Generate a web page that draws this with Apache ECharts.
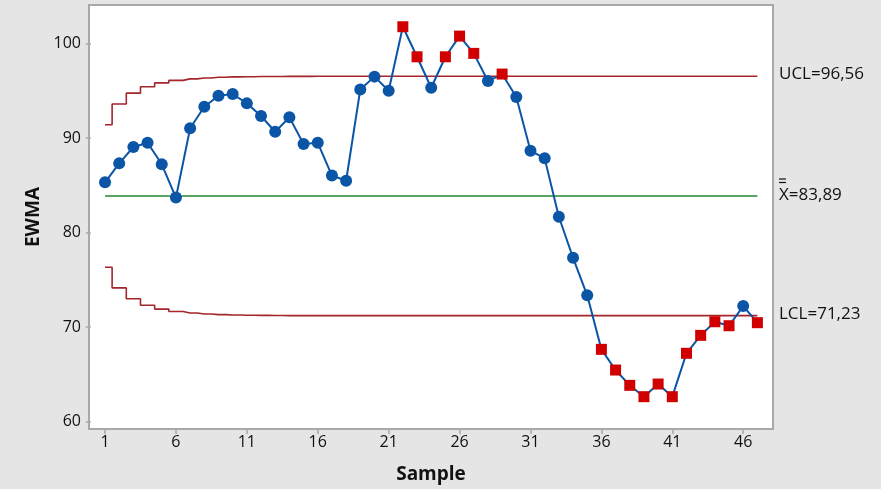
<!DOCTYPE html>
<html>
<head>
<meta charset="utf-8">
<script src="https://cdn.jsdelivr.net/npm/echarts@6/dist/echarts.min.js"></script>
<style>
html,body{margin:0;padding:0;background:#e5e5e5;}
#c{width:881px;height:489px;}
</style>
</head>
<body>
<div id="c"></div>
<script>
// ---- data ----
const samples = [];
for (let i = 1; i <= 47; i++) samples.push(i);
const ewma = [85.33, 87.34, 89.07, 89.52, 87.24, 83.72, 91.05, 93.33, 94.50, 94.68,
              93.69, 92.35, 90.69, 92.21, 89.39, 89.52, 86.05, 85.50, 95.17, 96.52,
              95.03, 101.80, 98.62, 95.34, 98.62, 100.81, 98.98, 96.05, 96.79, 94.36,
              88.68, 87.87, 81.69, 77.35, 73.38, 67.66, 65.47, 63.85, 62.65, 63.99,
              62.65, 67.24, 69.14, 70.58, 70.16, 72.24, 70.48];
const ucl = [91.43, 93.62, 94.77, 95.45, 95.86, 96.12, 96.28, 96.38, 96.45, 96.49,
             96.51, 96.53, 96.54, 96.55, 96.55, 96.56, 96.56, 96.56, 96.56, 96.56,
             96.56, 96.56, 96.56, 96.56, 96.56, 96.56, 96.56, 96.56, 96.56, 96.56,
             96.56, 96.56, 96.56, 96.56, 96.56, 96.56, 96.56, 96.56, 96.56, 96.56,
             96.56, 96.56, 96.56, 96.56, 96.56, 96.56, 96.56];
const lcl = [76.35, 74.16, 73.01, 72.33, 71.92, 71.66, 71.50, 71.40, 71.33, 71.29,
             71.27, 71.25, 71.24, 71.23, 71.23, 71.23, 71.23, 71.23, 71.23, 71.23,
             71.23, 71.23, 71.23, 71.23, 71.23, 71.23, 71.23, 71.23, 71.23, 71.23,
             71.23, 71.23, 71.23, 71.23, 71.23, 71.23, 71.23, 71.23, 71.23, 71.23,
             71.23, 71.23, 71.23, 71.23, 71.23, 71.23, 71.23];
const center = 83.89;
const uclLabel = "UCL=96,56";
const centerLabel = "X=83,89";
const lclLabel = "LCL=71,23";
const xTicks = [1, 6, 11, 16, 21, 26, 31, 36, 41, 46];
const yTicks = [60, 70, 80, 90, 100];

// ---- styles ----
const BLUE = '#0a55a6', RED = '#d00000', LIMIT = '#a3262a', GREEN = '#22882f';
const AXIS = '#a8a8a8', TXT = '#111111';
const FONT = '"Open Sans", "Noto Sans", sans-serif';

const ewmaData = samples.map((s, i) => {
  const v = ewma[i];
  const out = v > ucl[i] || v < lcl[i];
  return out
    ? { value: [s, v], symbol: 'rect', symbolSize: 11, itemStyle: { color: RED } }
    : { value: [s, v] };
});

const chart = echarts.init(document.getElementById('c'), null, { renderer: 'canvas' });
chart.setOption({
  backgroundColor: '#e5e5e5',
  animation: false,
  grid: { left: 89, top: 5, right: 108, bottom: 60, show: true, backgroundColor: '#ffffff',
          borderColor: AXIS, borderWidth: 2 },
  xAxis: {
    type: 'value', min: -0.13, max: 48.1,
    name: 'Sample', nameLocation: 'middle', nameGap: 36,
    nameTextStyle: { fontFamily: FONT, fontSize: 19, fontWeight: 'bold', color: TXT },
    axisLine: { show: false },
    axisTick: { show: true, length: 5, lineStyle: { color: AXIS, width: 1.5 }, customValues: xTicks },
    axisLabel: { fontFamily: FONT, fontSize: 16, color: TXT, margin: 5, customValues: xTicks },
    splitLine: { show: false }
  },
  yAxis: {
    type: 'value', min: 59.23, max: 104.1,
    name: 'EWMA', nameLocation: 'middle', nameGap: 46, nameRotate: 90,
    nameTextStyle: { fontFamily: FONT, fontSize: 19, fontWeight: 'bold', color: TXT },
    axisLine: { show: false },
    axisTick: { show: true, length: 5, lineStyle: { color: AXIS, width: 1.5 }, customValues: yTicks },
    axisLabel: { fontFamily: FONT, fontSize: 16, color: TXT, margin: 8, customValues: yTicks },
    splitLine: { show: false }
  },
  series: [
    { type: 'line', data: samples.map((s, i) => [s, ucl[i]]), step: 'middle', symbol: 'none',
      lineStyle: { color: LIMIT, width: 1.6 }, z: 1 },
    { type: 'line', data: samples.map((s, i) => [s, lcl[i]]), step: 'middle', symbol: 'none',
      lineStyle: { color: LIMIT, width: 1.6 }, z: 1 },
    { type: 'line', data: [[samples[0], center], [samples[samples.length - 1], center]], symbol: 'none',
      lineStyle: { color: GREEN, width: 1.6 }, z: 1 },
    { type: 'line', data: ewmaData, symbol: 'circle', symbolSize: 12, showAllSymbol: true,
      itemStyle: { color: BLUE }, lineStyle: { color: BLUE, width: 2 }, z: 3 }
  ],
  graphic: [
    { type: 'text', left: 779, top: 66, style: { text: uclLabel, fontFamily: FONT, fontSize: 17, fill: TXT } },
    { type: 'text', left: 779, top: 187, style: { text: centerLabel, fontFamily: FONT, fontSize: 17, fill: TXT } },
    { type: 'line', shape: { x1: 779, y1: 179, x2: 786, y2: 179 }, style: { stroke: TXT, lineWidth: 1.2 } },
    { type: 'line', shape: { x1: 779, y1: 182.5, x2: 786, y2: 182.5 }, style: { stroke: TXT, lineWidth: 1.2 } },
    { type: 'text', left: 779, top: 306, style: { text: lclLabel, fontFamily: FONT, fontSize: 17, fill: TXT } }
  ]
});
</script>
</body>
</html>
